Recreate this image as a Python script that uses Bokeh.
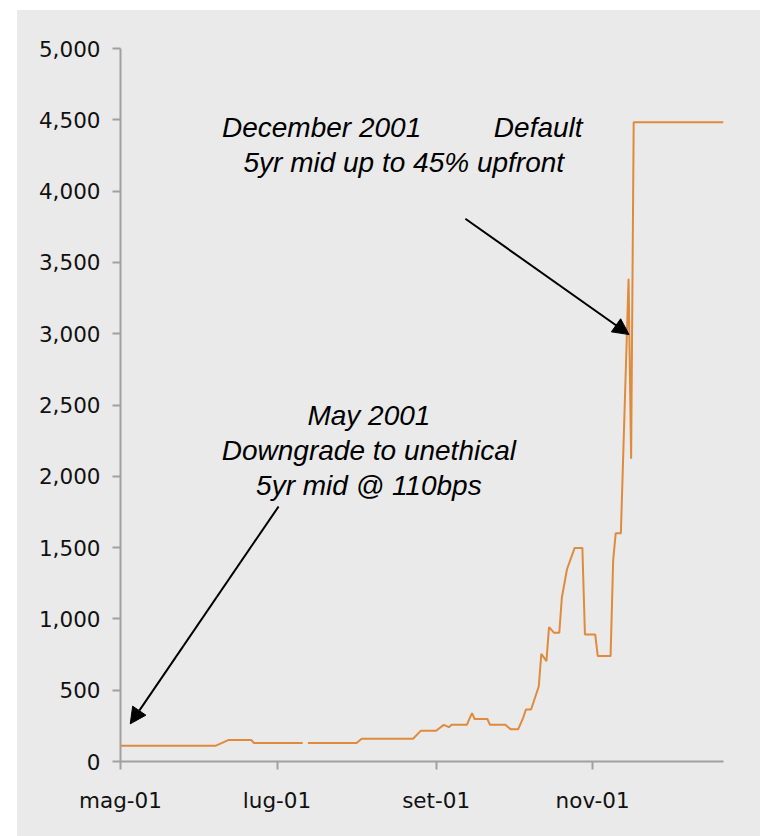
import numpy as np
from bokeh.plotting import figure
from bokeh.models import (Range1d, FixedTicker, CustomJSTickFormatter, NumeralTickFormatter,
                          Label, Arrow, NormalHead, ColumnDataSource)
from bokeh.embed import file_html
from bokeh.resources import INLINE

# ---- data ----
dates = ["2001-05-01", "2001-06-07", "2001-06-12", "2001-06-21", "2001-06-22", "2001-07-11",
         "2001-07-12", "2001-07-13", "2001-08-01", "2001-08-03", "2001-08-23", "2001-08-26",
         "2001-09-01", "2001-09-02", "2001-09-04", "2001-09-06", "2001-09-07", "2001-09-13",
         "2001-09-14", "2001-09-15", "2001-09-16", "2001-09-21", "2001-09-22", "2001-09-28",
         "2001-09-30", "2001-10-03", "2001-10-05", "2001-10-06", "2001-10-08", "2001-10-11",
         "2001-10-12", "2001-10-14", "2001-10-15", "2001-10-17", "2001-10-19", "2001-10-20",
         "2001-10-22", "2001-10-25", "2001-10-28", "2001-10-29", "2001-11-02", "2001-11-03",
         "2001-11-08", "2001-11-09", "2001-11-10", "2001-11-12", "2001-11-15", "2001-11-16",
         "2001-11-17", "2001-12-22"]
spread = [110, 110, 150, 150, 130, 130,
          np.nan, 130, 130, 160, 160, 215,
          215, 230, 257, 241, 257, 257,
          300, 339, 298, 298, 257, 257,
          227, 227, 310, 365, 365, 526,
          755, 704, 942, 902, 902, 1148,
          1348, 1498, 1498, 891, 891, 739,
          739, 1410, 1601, 1601, 3385, 2123,
          4483, 4483]

tick_dates = ["2001-05-01", "2001-07-01", "2001-09-01", "2001-11-01"]
tick_labels = ["mag-01", "lug-01", "set-01", "nov-01"]
y_ticks = [0, 500, 1000, 1500, 2000, 2500, 3000, 3500, 4000, 4500, 5000]

x_start, x_end = "2001-05-01", "2001-12-22"

DAY = 86400000.0
def ms(d):
    return float((np.datetime64(d, "ms") - np.datetime64("1970-01-01", "ms")) / np.timedelta64(1, "ms"))

base = ms(x_start)
def dx(days):
    return base + days * DAY

src = ColumnDataSource(dict(x=[ms(d) for d in dates], y=spread))

BG = "#eaeaea"
p = figure(width=743, height=826, x_axis_type="datetime",
           x_range=Range1d(ms(x_start), ms(x_end)), y_range=Range1d(0, 5000),
           output_backend="svg", toolbar_location=None,
           background_fill_color=BG, border_fill_color=BG,
           min_border_left=103, min_border_right=37, min_border_top=38, min_border_bottom=75)
p.outline_line_color = None
p.grid.grid_line_color = None

p.line("x", "y", source=src, line_color="#e08a3c", line_width=2)

# axes
tick_ms = [ms(d) for d in tick_dates]
p.xaxis.ticker = FixedTicker(ticks=tick_ms)
p.xaxis.formatter = CustomJSTickFormatter(args=dict(tvals=tick_ms, tlabels=tick_labels), code="""
    for (let i = 0; i < tvals.length; i++) {
        if (Math.abs(tvals[i] - tick) < 3600000) return tlabels[i];
    }
    return '';
""")
p.yaxis.ticker = FixedTicker(ticks=y_ticks)
p.yaxis.formatter = NumeralTickFormatter(format="0,0")

for ax in (p.xaxis, p.yaxis):
    ax.axis_line_color = "#a0a0a0"
    ax.axis_line_width = 2
    ax.major_tick_line_color = "#a0a0a0"
    ax.major_tick_line_width = 2
    ax.major_tick_out = 8
    ax.major_tick_in = 0
    ax.minor_tick_line_color = None
    ax.major_label_text_font = "DejaVu Sans"
    ax.major_label_text_font_size = "21.5px"
    ax.major_label_text_color = "#111111"
p.yaxis.major_label_standoff = 12
p.xaxis.major_label_standoff = 18

# annotations
font = "Liberation Sans"
def lab(x, y, text, align):
    p.add_layout(Label(x=x, y=y, text=text, text_font=font, text_font_style="italic",
                       text_font_size="28px", text_color="black", text_align=align,
                       text_baseline="alphabetic"))

lab(dx(39.55), 4448, "December 2001", "left")
lab(dx(145.5), 4448, "Default", "left")
lab(dx(110.4), 4203, "5yr mid up to 45% upfront", "center")
lab(dx(96.8), 2426, "May 2001", "center")
lab(dx(96.8), 2181, "Downgrade to unethical", "center")
lab(dx(96.8), 1935, "5yr mid @ 110bps", "center")

head = lambda: NormalHead(size=16, fill_color="black", line_color="black", line_width=1)
p.add_layout(Arrow(end=head(), x_start=dx(134.4), y_start=3806, x_end=dx(198.2), y_end=2994,
                   line_color="black", line_width=2))
p.add_layout(Arrow(end=head(), x_start=dx(61.6), y_start=1788, x_end=dx(3.8), y_end=264,
                   line_color="black", line_width=2))

html = file_html(p, INLINE)
css = ("<style>html{margin:0;padding:0;background:#eaeaea;}"
       "body{margin:0;padding:0;background:#eaeaea;border-top:10px solid #ffffff;"
       "border-left:17px solid #ffffff;overflow:hidden;}</style>")
html = html.replace("<head>", "<head>" + css, 1)
open("out.html", "w").write(html)
